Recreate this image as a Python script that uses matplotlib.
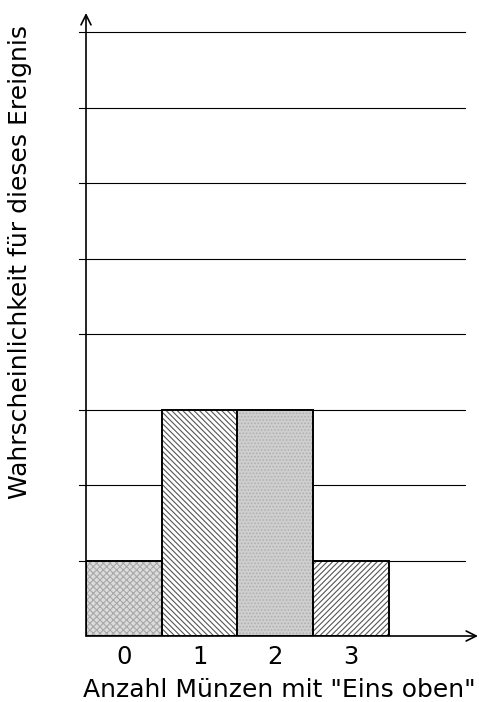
import matplotlib
matplotlib.use("Agg")
import matplotlib.pyplot as plt

categories = [0, 1, 2, 3]
tick_labels = ["0", "1", "2", "3"]
values = [1, 3, 3, 1]          # in eighths
grid_levels = [1, 2, 3, 4, 5, 6, 7, 8]

plt.rcParams['font.family'] = ['DejaVu Sans']
plt.rcParams['hatch.linewidth'] = 0.8

fig = plt.figure(figsize=(4.79, 7.02), dpi=100)
ax = fig.add_axes([86/479, 66/702, 392/479, 623/702])
ax.set_xlim(0, 392/75.7)
ax.set_ylim(0, 623/75.5)
for s in ax.spines.values():
    s.set_visible(False)
ax.set_xticks([])
ax.set_yticks([])

# grid lines
for g in grid_levels:
    ax.plot([-0.09, 5.0], [g, g], color='black', lw=0.8, clip_on=False, zorder=1)

styles = [
    dict(face='#dcdcdc', hatch='xxxxx', hc='#a8a8a8'),
    dict(face='white', hatch='\\\\\\\\\\\\', hc='#555555'),
    dict(face='#cfcfcf', hatch='.....', hc='#b0b0b0'),
    dict(face='white', hatch='//////', hc='#555555'),
]
for c, v, st in zip(categories, values, styles):
    ax.bar(c + 0.5, v, width=1.0, color=st['face'], edgecolor=st['hc'],
           hatch=st['hatch'], lw=0, zorder=2)
    ax.bar(c + 0.5, v, width=1.0, fill=False, edgecolor='black', lw=1.4, zorder=3)

# axes with arrows
ax.annotate('', xy=(392/75.7, 0), xytext=(0, 0),
            arrowprops=dict(arrowstyle='->', lw=1.2, color='black',
                            mutation_scale=18, shrinkA=0, shrinkB=0),
            annotation_clip=False, zorder=4)
ax.annotate('', xy=(0, 623/75.5), xytext=(0, 0),
            arrowprops=dict(arrowstyle='->', lw=1.2, color='black',
                            mutation_scale=18, shrinkA=0, shrinkB=0),
            annotation_clip=False, zorder=4)

for c, lab in zip(categories, tick_labels):
    ax.text(c + 0.5, -21/75.5, lab, ha='center', va='center', fontsize=17.5)

fig.text(279/479, 1 - 690/702, 'Anzahl Münzen mit "Eins oben"', ha='center', va='center', fontsize=18)
fig.text(20/479, 1 - 262/702, 'Wahrscheinlichkeit für dieses Ereignis', rotation=90,
         ha='center', va='center', fontsize=18)

fig.savefig('out.png', dpi=100)
